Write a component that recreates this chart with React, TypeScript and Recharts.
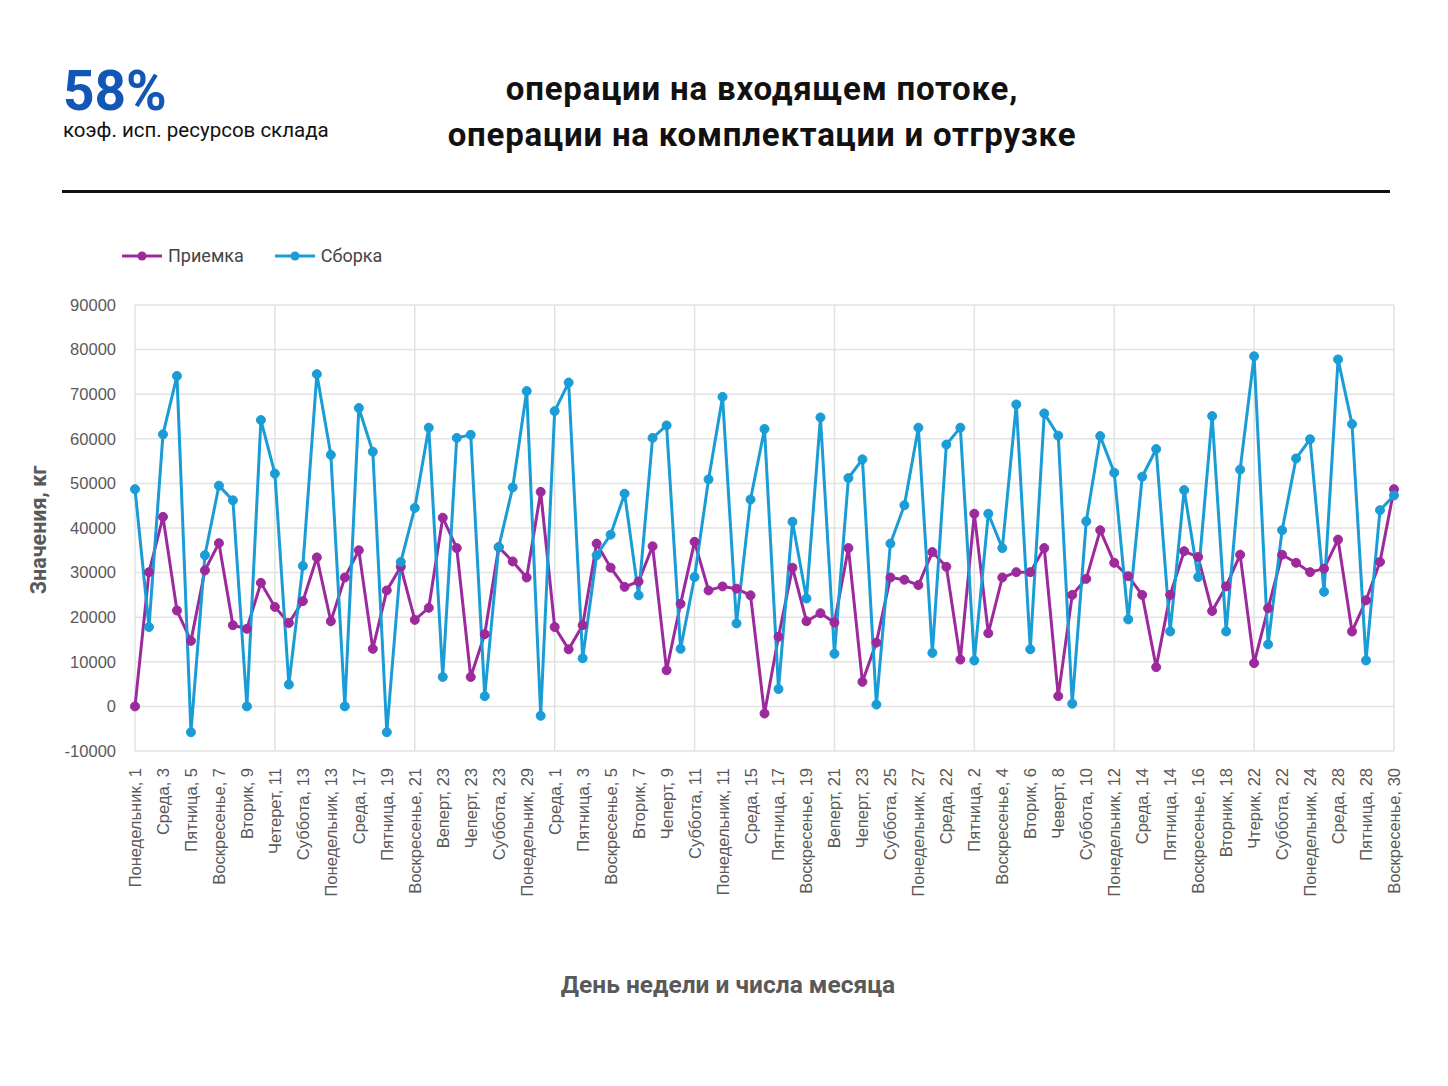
import React from "react";
import {
    LineChart,
    Line,
    XAxis,
    YAxis,
    CartesianGrid,
    ReferenceLine,
    Legend
} from "recharts";

// подписи под осью X (каждая вторая точка)
const dayLabels = [
    "Понедельник, 1", "Среда, 3", "Пятница, 5", "Воскресенье, 7", "Вторик, 9",
    "Четерет, 11", "Суббота, 13", "Понедельник, 13", "Среда, 17", "Пятница, 19",
    "Воскресенье, 21", "Веперт, 23", "Чеперт, 23", "Суббота, 23", "Понедельник, 29",
    "Среда, 1", "Пятница, 3", "Воскресенье, 5", "Вторик, 7", "Чеперт, 9",
    "Суббота, 11", "Понедельник, 11", "Среда, 15", "Пятница, 17", "Воскресенье, 19",
    "Веперт, 21", "Чеперт, 23", "Суббота, 25", "Понедельник, 27", "Среда, 22",
    "Пятница, 2", "Воскресенье, 4", "Вторик, 6", "Чеверт, 8", "Суббота, 10",
    "Понедельник, 12", "Среда, 14", "Пятница, 14", "Воскресенье, 16", "Вторник, 18",
    "Чтерик, 22", "Суббота, 22", "Понедельник, 24", "Среда, 28", "Пятница, 28",
    "Воскресенье, 30"
];

const priemka = [
    0, 30100, 42500, 21500, 14700, 30500, 36600, 18200, 17400, 27700,
    22300, 18700, 23600, 33400, 19100, 28900, 35000, 12900, 26000, 31300,
    19400, 22100, 42300, 35500, 6600, 16200, 35700, 32500, 28900, 48100,
    17800, 12800, 18200, 36500, 31100, 26800, 28000, 35900, 8100, 23000,
    36900, 26000, 26900, 26400, 24900, -1600, 15600, 31100, 19100, 20900,
    18800, 35500, 5500, 14300, 28900, 28400, 27200, 34600, 31300, 10500,
    43200, 16400, 28900, 30100, 30100, 35500, 2300, 25000, 28600, 39500,
    32200, 29200, 25000, 8800, 25000, 34800, 33500, 21400, 26900, 34000,
    9700, 22000, 34000, 32200, 30100, 30900, 37400, 16800, 23800, 32400,
    48700
];

const sborka = [
    48700, 17800, 61000, 74100, -5800, 33900, 49500, 46200, 0, 64200,
    52200, 4900, 31500, 74500, 56400, 0, 66900, 57100, -5800, 32400,
    44500, 62500, 6600, 60200, 60900, 2300, 35700, 49100, 70700, -2100,
    66200, 72600, 10800, 33900, 38500, 47700, 24900, 60200, 63000, 12900,
    29000, 50900, 69400, 18600, 46400, 62200, 3900, 41400, 24200, 64800,
    11800, 51200, 55400, 400, 36500, 45100, 62500, 12000, 58700, 62500,
    10300, 43200, 35500, 67700, 12800, 65700, 60700, 600, 41500, 60600,
    52400, 19500, 51500, 57700, 16800, 48500, 29000, 65100, 16800, 53100,
    78500, 13900, 39500, 55600, 59900, 25700, 77800, 63300, 10300, 44000,
    47300
];

const yTicks = [-10000, 0, 10000, 20000, 30000, 40000, 50000, 60000, 70000, 80000, 90000];
const gridEvery = 10;

const PURPLE = "#9d2a9c";
const BLUE = "#1a9cd6";
const AXIS_GRAY = "#595959";
const GRID = "#e2e2e2";
const TICK_FONT = "'Liberation Sans', Arial, sans-serif";

const data = priemka.map((p, i) => ({ idx: i, priemka: p, sborka: sborka[i] }));
const gridIdx = data.filter(d => d.idx % gridEvery === 0).map(d => d.idx);

const XTick = (props: any) => {
    const { x, y, payload } = props;
    const i = payload.value as number;
    if (i % 2 !== 0) return null;
    return (
        <text
            x={x}
            y={y}
            transform={`rotate(-90 ${x} ${y})`}
            textAnchor="end"
            dominantBaseline="central"
            fontSize={16.5}
            fill={AXIS_GRAY}
            fontFamily={TICK_FONT}
        >
            {dayLabels[i / 2]}
        </text>
    );
};

const LegendContent = (props: any) => {
    const { payload } = props;
    return (
        <div style={{ display: "flex", alignItems: "center", fontFamily: "Roboto, sans-serif", fontSize: 18, color: "#444" }}>
            {(payload || []).map((entry: any) => (
                <div key={entry.value} style={{ display: "flex", alignItems: "center", marginRight: 31 }}>
                    <svg width={40} height={12} style={{ marginRight: 6 }}>
                        <line x1={0} y1={6} x2={40} y2={6} stroke={entry.color} strokeWidth={3} />
                        <circle cx={20} cy={6} r={4.5} fill={entry.color} />
                    </svg>
                    <span>{entry.value}</span>
                </div>
            ))}
        </div>
    );
};

const App: React.FC = () => {
    return (
        <div style={{ position: "absolute", left: 0, top: 0, width: 1448, height: 1086, background: "#fff", overflow: "hidden" }}>
            <div style={{ position: "absolute", left: 63, top: 64, fontFamily: "Roboto, sans-serif", fontWeight: 700, fontSize: 55, lineHeight: "55px", color: "#1256b6" }}>
                58%
            </div>
            <div style={{ position: "absolute", left: 63, top: 120, fontFamily: "Roboto, sans-serif", fontSize: 20.5, lineHeight: "20px", color: "#111" }}>
                коэф. исп. ресурсов склада
            </div>
            <div style={{ position: "absolute", left: 362, top: 66, width: 800, textAlign: "center", fontFamily: "Roboto, sans-serif", fontWeight: 700, fontSize: 33, letterSpacing: 0.8, lineHeight: "46px", color: "#111" }}>
                операции на входящем потоке,<br />операции на комплектации и отгрузке
            </div>
            <div style={{ position: "absolute", left: 62, top: 190, width: 1328, height: 3, background: "#111" }} />

            <div style={{ position: "absolute", left: 38, top: 530, transform: "translate(-50%, -50%) rotate(-90deg)", whiteSpace: "nowrap", fontFamily: "Roboto, sans-serif", fontWeight: 700, fontSize: 21.5, color: AXIS_GRAY }}>
                Значения, кг
            </div>
            <div style={{ position: "absolute", left: 728, top: 984, transform: "translate(-50%, -50%)", whiteSpace: "nowrap", fontFamily: "Roboto, sans-serif", fontWeight: 700, fontSize: 24.5, color: AXIS_GRAY }}>
                День недели и числа месяца
            </div>

            <div style={{ position: "absolute", left: 0, top: 0 }}>
                <LineChart
                    width={1448}
                    height={1086}
                    data={data}
                    margin={{ top: 305, right: 54, left: 75, bottom: 195 }}
                >
                    <CartesianGrid vertical={false} stroke={GRID} strokeWidth={1.5} />
                    {gridIdx.map(i => (
                        <ReferenceLine key={i} x={i} stroke={GRID} strokeWidth={1.5} />
                    ))}
                    <XAxis
                        dataKey="idx"
                        type="category"
                        interval={1}
                        height={140}
                        axisLine={false}
                        tickLine={false}
                        tickSize={0}
                        tickMargin={17}
                        tick={<XTick />}
                    />
                    <YAxis
                        width={60}
                        domain={[-10000, 90000]}
                        ticks={yTicks}
                        axisLine={false}
                        tickLine={false}
                        tickSize={0}
                        tickMargin={19}
                        tick={{ fontSize: 16.5, fill: AXIS_GRAY, fontFamily: TICK_FONT }}
                    />
                    <Legend
                        layout="horizontal"
                        verticalAlign="middle"
                        align="center"
                        content={<LegendContent />}
                        wrapperStyle={{ position: "absolute", left: 122, top: 245, width: 400 }}
                    />
                    <Line
                        type="linear"
                        dataKey="priemka"
                        name="Приемка"
                        stroke={PURPLE}
                        strokeWidth={3}
                        dot={{ r: 4.5, fill: PURPLE, stroke: PURPLE, strokeWidth: 1 }}
                        activeDot={false}
                        isAnimationActive={false}
                    />
                    <Line
                        type="linear"
                        dataKey="sborka"
                        name="Сборка"
                        stroke={BLUE}
                        strokeWidth={3}
                        dot={{ r: 4.5, fill: BLUE, stroke: BLUE, strokeWidth: 1 }}
                        activeDot={false}
                        isAnimationActive={false}
                    />
                </LineChart>
            </div>
        </div>
    );
};

export default App;
